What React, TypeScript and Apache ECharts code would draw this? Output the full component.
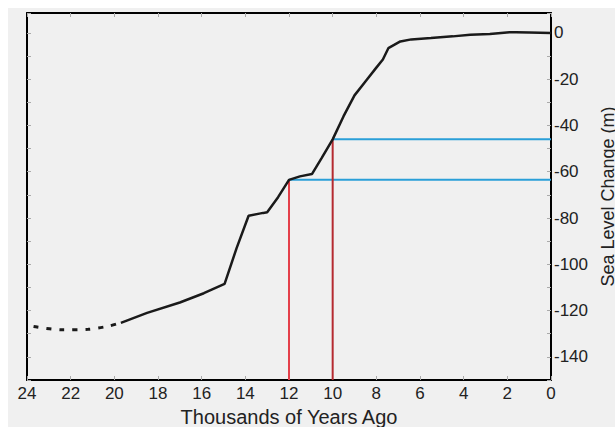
import React, { useEffect, useRef } from "react";
import * as echarts from "echarts";

// Thousands of years ago vs sea level change (m)
const dashedYears = [23.7, 22.4, 21.2, 20.3, 19.9];
const dashedLevels = [-126.9, -128.3, -128.1, -126.8, -125.8];
const solidYears = [19.7, 18.5, 17.0, 15.9, 14.95, 14.4, 13.85, 13.3, 13.0, 12.5, 12.0, 11.5, 10.95, 10.5, 10.0, 9.5, 9.0, 8.5, 8.0, 7.7, 7.45, 6.9, 6.4, 5.5, 4.5, 3.7, 2.8, 1.9, 1.0, 0.0];
const solidLevels = [-125.3, -121.0, -116.5, -112.5, -108.5, -93.0, -79.0, -78.0, -77.5, -71.0, -63.5, -62.0, -61.0, -54.0, -46.0, -36.0, -27.0, -21.0, -15.0, -11.5, -6.6, -3.7, -2.8, -2.2, -1.5, -0.8, -0.5, 0.3, 0.2, 0.0];
const markerYears = [12, 10];
const markerLevels = [-63.5, -46];
const xTicks = [24, 22, 20, 18, 16, 14, 12, 10, 8, 6, 4, 2, 0];
const yTickLabels = [0, -20, -40, -60, -80, -100, -120, -140];

const X_MIN = 0;
const X_MAX = 24;
const Y_MIN = -150;
const Y_MAX = 8.6;

export default function App() {
  const ref = useRef<HTMLDivElement>(null);
  useEffect(() => {
    if (!ref.current) return;
    const chart = echarts.init(ref.current, null, { renderer: "svg" });
    const font = "Liberation Sans, Arial, sans-serif";
    const zip = (a: number[], b: number[]) => a.map((v, i) => [v, b[i]]);
    const redColors = ["#e4404a", "#b52a30"];
    const series: any[] = [];
    markerYears.forEach((yr, i) => {
      series.push({
        type: "line",
        data: [[yr, Y_MIN], [yr, markerLevels[i]]],
        symbol: "none",
        silent: true,
        lineStyle: { color: redColors[i], width: 2 },
        z: 2,
      });
      series.push({
        type: "line",
        data: [[yr, markerLevels[i]], [X_MIN, markerLevels[i]]],
        symbol: "none",
        silent: true,
        lineStyle: { color: "#2a9fd8", width: 2 },
        z: 2,
      });
    });
    series.push({
      type: "line",
      data: zip(dashedYears, dashedLevels),
      symbol: "none",
      silent: true,
      smooth: 0.3,
      lineStyle: { color: "#1a1a1a", width: 3, type: [5, 8] },
      z: 3,
    });
    series.push({
      type: "line",
      data: zip(solidYears, solidLevels),
      symbol: "none",
      silent: true,
      lineStyle: { color: "#1a1a1a", width: 2.5 },
      z: 3,
    });

    const axisLine = { show: true, onZero: false, lineStyle: { color: "#000", width: 2 } };
    const tickStyle = { show: true, inside: true, length: 4, lineStyle: { color: "#aaa", width: 1 } };

    chart.setOption({
      animation: false,
      backgroundColor: "#f0f0f0",
      grid: { left: 19, right: 64, top: 5, bottom: 47, containLabel: false, outerBoundsMode: "none" },
      xAxis: [
        {
          type: "value",
          min: X_MIN,
          max: X_MAX,
          interval: 2,
          inverse: true,
          position: "bottom",
          name: "Thousands of Years Ago",
          nameLocation: "middle",
          nameGap: 21,
          nameTextStyle: { color: "#222", fontSize: 20, fontFamily: font, lineHeight: 20 },
          axisLine,
          axisTick: tickStyle,
          axisLabel: {
            color: "#222",
            fontSize: 17,
            fontFamily: font,
            margin: 5,
            formatter: (v: number) => (xTicks.includes(v) ? String(v) : ""),
          },
          splitLine: { show: false },
        },
        {
          type: "value",
          min: X_MIN,
          max: X_MAX,
          interval: 2,
          inverse: true,
          position: "top",
          axisLine,
          axisTick: tickStyle,
          axisLabel: { show: false },
          splitLine: { show: false },
        },
      ],
      yAxis: [
        {
          type: "value",
          min: Y_MIN,
          max: Y_MAX,
          interval: 10,
          position: "right",
          name: "Sea Level Change (m)",
          nameLocation: "middle",
          nameGap: 34,
          nameRotate: 90,
          nameTextStyle: { color: "#222", fontSize: 18, fontFamily: font, lineHeight: 18 },
          axisLine,
          axisTick: tickStyle,
          axisLabel: {
            color: "#222",
            fontSize: 17,
            fontFamily: font,
            margin: 3,
            formatter: (v: number) => (yTickLabels.includes(v) ? String(v) : ""),
          },
          splitLine: { show: false },
        },
        {
          type: "value",
          min: Y_MIN,
          max: Y_MAX,
          interval: 10,
          position: "left",
          axisLine,
          axisTick: tickStyle,
          axisLabel: { show: false },
          splitLine: { show: false },
        },
      ],
      series,
    });
    return () => chart.dispose();
  }, []);
  return (
    <div
      ref={ref}
      style={{ position: "fixed", left: 8, top: 8, width: 607, height: 419 }}
    />
  );
}
